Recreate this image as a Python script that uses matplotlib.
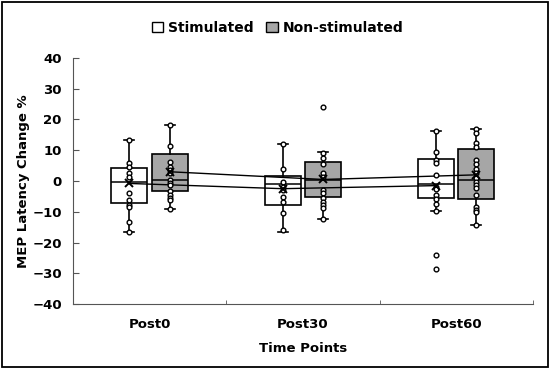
#!/usr/bin/env python3
"""
MEP latency change box plot
"""

import matplotlib
matplotlib.use("Agg")
import matplotlib.pyplot as plt
from matplotlib.patches import Patch, Rectangle

time_points = ["Post0", "Post30", "Post60"]
groups = ["Stimulated", "Non-stimulated"]

# box stats (per time point)
stim_whishi = [13.3, 12.0, 16.3]
stim_q3 = [4.3, 1.7, 7.0]
stim_med = [-0.2, -1.1, -1.0]
stim_q1 = [-7.3, -7.8, -5.4]
stim_whislo = [-16.5, -16.5, -9.7]
stim_mean = [-0.8, -2.5, -1.5]

non_whishi = [18.2, 9.5, 16.8]
non_q3 = [8.8, 6.1, 10.3]
non_med = [0.3, 0.3, 0.3]
non_q1 = [-3.2, -5.1, -5.8]
non_whislo = [-9.2, -12.5, -14.2]
non_mean = [3.0, 0.5, 2.0]

# individual points
stim_post0 = [13.3, 5.7, 4.7, 2.7, 1.4, -3.8, -6.2, -7.8, -8.6, -13.2, -16.5]
stim_post30 = [12.0, 3.8, -0.2, -1.8, -2.8, -5.1, -6.7, -10.3, -15.9]
stim_post60 = [16.3, 9.5, 6.8, 5.7, 2.0, -1.8, -2.6, -4.6, -5.9, -7.5, -9.7]
stim_outliers60 = [-24.0, -28.7]
non_post0 = [18.2, 11.3, 6.1, 4.7, 3.6, 2.5, 0.3, -0.8, -1.3, -3.3, -4.6, -5.4, -6.3, -9.2]
non_post30 = [9.0, 7.4, 5.5, 2.5, 1.4, -2.9, -4.0, -5.6, -6.7, -7.8, -8.9, -12.5]
non_outliers30 = [24.1]
non_post60 = [16.8, 15.5, 12.3, 11.2, 6.8, 5.4, 3.8, 2.5, 0.9, -0.2, -1.3, -2.4, -4.6,
              -8.4, -9.4, -10.2, -14.2]

stim_points = [stim_post0, stim_post30, stim_post60 + stim_outliers60]
non_points = [non_post0, non_post30 + non_outliers30, non_post60]

fig = plt.figure(figsize=(5.5, 3.69), dpi=100)
ax = fig.add_axes([0.1327, 0.176, 0.836, 0.667])

offset = 0.132
width = 0.235
x_cat = [1, 2, 3]


def make_stats(whishi, q3, med, q1, whislo, mean):
    return [dict(whishi=whishi[i], q3=q3[i], med=med[i], q1=q1[i],
                 whislo=whislo[i], mean=mean[i], fliers=[]) for i in range(len(med))]


for stats, pts, means, sign, face in [
    (make_stats(stim_whishi, stim_q3, stim_med, stim_q1, stim_whislo, stim_mean),
     stim_points, stim_mean, -1, "white"),
    (make_stats(non_whishi, non_q3, non_med, non_q1, non_whislo, non_mean),
     non_points, non_mean, 1, "#a6a6a6"),
]:
    pos = [x + sign * offset for x in x_cat]
    ax.bxp(stats, positions=pos, widths=width, patch_artist=True, showfliers=False,
           showmeans=False, capwidths=0.065,
           boxprops=dict(facecolor=face, edgecolor="black", linewidth=1.2),
           medianprops=dict(color="black", linewidth=1.1),
           whiskerprops=dict(color="black", linewidth=1.2),
           capprops=dict(color="black", linewidth=1.2))
    ax.plot(pos, means, color="black", linewidth=1.0, zorder=4)
    for p, vals in zip(pos, pts):
        ax.plot([p] * len(vals), vals, linestyle="none", marker="o", markersize=3.4,
                markerfacecolor="white", markeredgecolor="black",
                markeredgewidth=1.0, zorder=5)
    ax.plot(pos, means, linestyle="none", marker="x", markersize=5.5,
            markeredgecolor="black", markeredgewidth=1.4, zorder=6)

ax.set_xlim(0.5, 3.5)
ax.set_ylim(-40, 40)
ax.set_yticks(range(-40, 41, 10))
ax.set_xticks(x_cat)
ax.set_xticklabels(time_points, fontsize=9.5, fontweight="bold")
ax.set_xticks([1.5, 2.5, 3.5], minor=True)
ax.tick_params(axis="x", which="major", length=0, pad=10)
ax.tick_params(axis="x", which="minor", direction="in", length=3, color="#555555")
ax.tick_params(axis="y", direction="in", length=4, color="#555555",
               labelsize=9.5, pad=8)
for lab in ax.get_yticklabels():
    lab.set_fontweight("bold")
ax.spines["top"].set_visible(False)
ax.spines["right"].set_visible(False)
ax.spines["left"].set_color("#555555")
ax.spines["bottom"].set_color("#555555")
ax.set_ylabel("MEP Latency Change %", fontsize=9.5, fontweight="bold")
ax.yaxis.set_label_coords(-0.093, 0.5)
ax.set_xlabel("Time Points", fontsize=9.5, fontweight="bold", labelpad=8)

handles = [Patch(facecolor="white", edgecolor="black", linewidth=1.0),
           Patch(facecolor="#a6a6a6", edgecolor="black", linewidth=1.0)]
leg = fig.legend(handles, groups, loc="center", bbox_to_anchor=(0.505, 0.925), ncol=2,
                 frameon=False, handlelength=0.8, handleheight=0.8, handletextpad=0.4,
                 columnspacing=0.9, prop=dict(size=10, weight="bold"))

fig.patches.append(Rectangle((0.004, 0.005), 0.992, 0.99, transform=fig.transFigure,
                             fill=False, edgecolor="black", linewidth=1.3))

fig.savefig("out.png", dpi=100)
